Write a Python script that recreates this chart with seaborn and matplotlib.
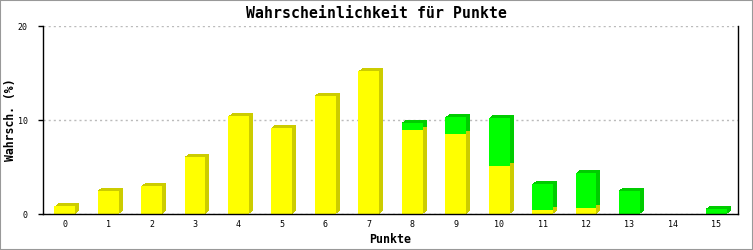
import matplotlib
matplotlib.use("Agg")
import matplotlib.pyplot as plt
import matplotlib.patheffects as pe
from matplotlib.patches import Rectangle
import seaborn as sns
import pandas as pd

# ---- data ----
points = [str(i) for i in range(16)]
yellow = [0.8, 2.5, 3.0, 6.1, 10.4, 9.2, 12.6, 15.2, 8.9, 8.5, 5.1, 0.45, 0.65, 0, 0, 0]
green = [0, 0, 0, 0, 0, 0, 0, 0, 0.8, 1.8, 5.1, 2.75, 3.7, 2.5, 0, 0.55]
y_ticks = [0, 10, 20]
title = "Wahrscheinlichkeit für Punkte"
xlabel = "Punkte"
ylabel = "Wahrsch. (%)"

total = [a + b for a, b in zip(yellow, green)]
df = pd.DataFrame({"punkte": points, "gelb": yellow, "gesamt": total})

YEL, YEL_D = "#FFFF00", "#CCCC00"
GRN, GRN_D = "#00FF00", "#00CC00"

sns.set_theme(style="white")
plt.rcParams["font.family"] = ["DejaVu Sans Mono", "DejaVu Sans"]
plt.rcParams["text.color"] = "black"
plt.rcParams["axes.labelcolor"] = "black"
plt.rcParams["xtick.color"] = "black"
plt.rcParams["ytick.color"] = "black"

fig = plt.figure(figsize=(7.53, 2.5), dpi=100)
ax = fig.add_axes([43 / 753, 1 - 214 / 250, 695 / 753, 188 / 250])

px = 0.72  # points per pixel
n = 8
def depth(color):
    return [pe.SimplePatchShadow(offset=(4 * px * k / n, 3 * px * k / n),
                                 shadow_rgbFace=color, alpha=1)
            for k in range(n, 0, -1)]

common = dict(data=df, x="punkte", width=0.48, saturation=1, errorbar=None,
              linewidth=0, ax=ax)
# depth (side + top faces)
sns.barplot(y="gesamt", color=GRN_D, path_effects=depth(GRN_D), **common)
sns.barplot(y="gelb", color=YEL_D, path_effects=depth(YEL_D), **common)
# front faces
sns.barplot(y="gesamt", color=GRN, **common)
sns.barplot(y="gelb", color=YEL, **common)

ax.set_ylim(0, 20)
ax.set_xlim(-0.5, 15.5)
ax.set_yticks(y_ticks)
ax.set_yticklabels([str(t) for t in y_ticks])
ax.yaxis.grid(True, color="#bbbbbb", linestyle=(0, (1.5, 2.2)), linewidth=1)
ax.xaxis.grid(False)
ax.set_axisbelow(True)

for s in ["left", "bottom", "right"]:
    ax.spines[s].set_visible(True)
    ax.spines[s].set_color("black")
    ax.spines[s].set_linewidth(1)
ax.spines["top"].set_visible(False)

ax.tick_params(axis="y", left=True, length=3.6, width=1, color="black",
               pad=7.5, labelsize=6, labelcolor="black")
ax.tick_params(axis="x", bottom=False, length=0, pad=4, labelsize=6,
               labelcolor="black")

ax.set_xlabel(xlabel, fontsize=8.4, fontweight="bold", color="black")
ax.set_ylabel(ylabel, fontsize=8.3, fontweight="bold", color="black")
ax.xaxis.set_label_coords(0.5, -(233 - 214) / 188)
ax.yaxis.set_label_coords(-(43 - 17) / 695, 0.5)

fig.text(0.5, 1 - 13 / 250, title, ha="center", va="center",
         fontsize=10.7, fontweight="bold", color="black")

fig.patches.append(Rectangle((0, 0), 1, 1, transform=fig.transFigure,
                             fill=False, edgecolor="#999999", linewidth=1.5))

fig.savefig("out.png", dpi=100, facecolor="white")
